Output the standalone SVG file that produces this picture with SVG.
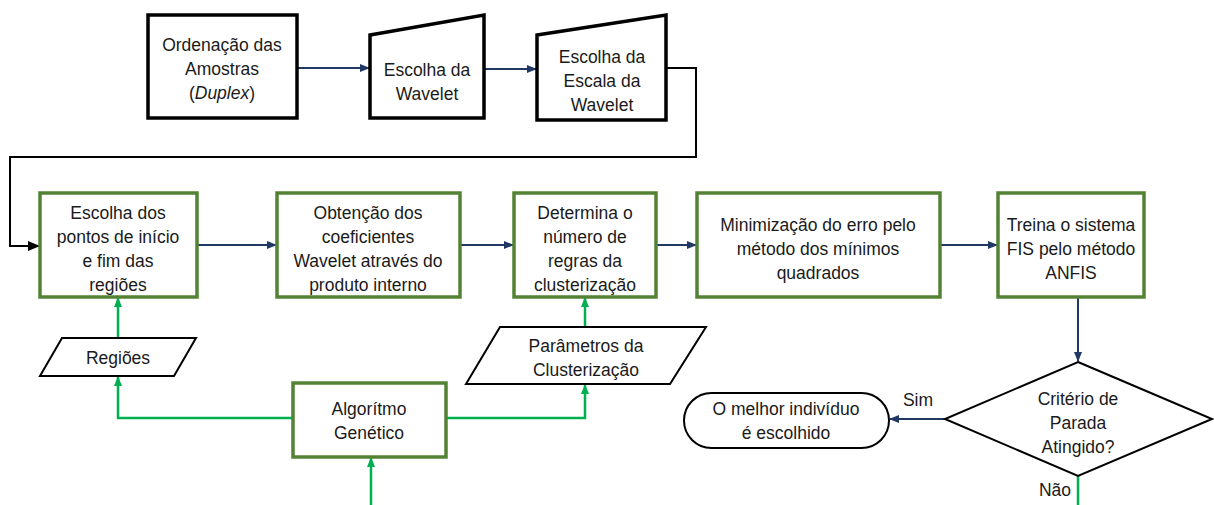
<svg xmlns="http://www.w3.org/2000/svg" width="1214" height="505" viewBox="0 0 1214 505">
<style>
text{font-family:"Liberation Sans",Arial,sans-serif;font-size:17.5px;fill:#1a1a1a;text-anchor:middle}
.blk{fill:#fff;stroke:#000;stroke-width:3.5;stroke-linejoin:miter}
.thin{fill:#fff;stroke:#000;stroke-width:2}
.grn{fill:#fff;stroke:#548235;stroke-width:3.5}
.navy{fill:none;stroke:#1F3864;stroke-width:2}
.gl{fill:none;stroke:#00B050;stroke-width:2.5}
.bl{fill:none;stroke:#000;stroke-width:2}
</style>
<defs>
<marker id="an" markerWidth="10" markerHeight="10" refX="9" refY="5" orient="auto" markerUnits="userSpaceOnUse"><path d="M0,1 L10,5 L0,9 Z" fill="#1F3864"/></marker>
<marker id="ag" markerWidth="10" markerHeight="10" refX="9" refY="5" orient="auto" markerUnits="userSpaceOnUse"><path d="M0,1 L10,5 L0,9 Z" fill="#00B050"/></marker>
<marker id="ab" markerWidth="12" markerHeight="12" refX="11" refY="6" orient="auto" markerUnits="userSpaceOnUse"><path d="M0,1 L12,6 L0,11 Z" fill="#000"/></marker>
</defs>
<g id="connectors">
<line class="navy" x1="297" y1="68" x2="369" y2="68" marker-end="url(#an)"/>
<line class="navy" x1="484" y1="69" x2="536" y2="69" marker-end="url(#an)"/>
<polyline class="bl" points="666,68 696,68 696,157 10,157 10,246 39,246" marker-end="url(#ab)"/>
<line class="navy" x1="197" y1="245" x2="276" y2="245" marker-end="url(#an)"/>
<line class="navy" x1="460" y1="245" x2="513" y2="245" marker-end="url(#an)"/>
<line class="navy" x1="656" y1="245" x2="696" y2="245" marker-end="url(#an)"/>
<line class="navy" x1="940" y1="245" x2="997" y2="245" marker-end="url(#an)"/>
<line class="navy" x1="1078" y1="297" x2="1078" y2="361" marker-end="url(#an)"/>
<line class="navy" x1="945" y1="419" x2="890" y2="419" marker-end="url(#an)"/>
<polyline class="gl" points="1078,476 1078,510"/>
<line class="gl" x1="371" y1="510" x2="371" y2="458" marker-end="url(#ag)"/>
<polyline class="gl" points="293,418 118,418 118,377" marker-end="url(#ag)"/>
<line class="gl" x1="118" y1="338" x2="118" y2="298" marker-end="url(#ag)"/>
<polyline class="gl" points="446,418 585,418 585,385" marker-end="url(#ag)"/>
<line class="gl" x1="585" y1="327" x2="585" y2="298" marker-end="url(#ag)"/>
<text x="918" y="406">Sim</text>
<text x="1055" y="496">Não</text>
</g>
<g id="n_ordenacao">
<rect class="blk" x="148" y="15" width="149" height="103"/>
<text x="222" y="51">Ordenação das</text>
<text x="222" y="75">Amostras</text>
<text x="222" y="99">(<tspan font-style="italic">Duplex</tspan>)</text>
</g>
<g id="n_wavelet">
<path class="blk" d="M370,35 L484,15 L484,118 L370,118 Z"/>
<text x="427" y="76">Escolha da</text>
<text x="427" y="100">Wavelet</text>
</g>
<g id="n_escala">
<path class="blk" d="M537,35 L666,15 L666,120 L537,120 Z"/>
<text x="602" y="63">Escolha da</text>
<text x="602" y="87">Escala da</text>
<text x="602" y="111">Wavelet</text>
</g>
<g id="n_pontos">
<rect class="grn" x="40" y="193" width="157" height="104"/>
<text x="118" y="219">Escolha dos</text>
<text x="118" y="243">pontos de início</text>
<text x="118" y="267">e fim das</text>
<text x="118" y="291">regiões</text>
</g>
<g id="n_coef">
<rect class="grn" x="277" y="193" width="183" height="104"/>
<text x="368" y="219">Obtenção dos</text>
<text x="368" y="243">coeficientes</text>
<text x="368" y="267">Wavelet através do</text>
<text x="368" y="291">produto interno</text>
</g>
<g id="n_regras">
<rect class="grn" x="514" y="193" width="142" height="104"/>
<text x="585" y="219">Determina o</text>
<text x="585" y="243">número de</text>
<text x="585" y="267">regras da</text>
<text x="585" y="291">clusterização</text>
</g>
<g id="n_min">
<rect class="grn" x="697" y="193" width="243" height="104"/>
<text x="818" y="231">Minimização do erro pelo</text>
<text x="818" y="255">método dos mínimos</text>
<text x="818" y="279">quadrados</text>
</g>
<g id="n_anfis">
<rect class="grn" x="998" y="193" width="146" height="104"/>
<text x="1071" y="231">Treina o sistema</text>
<text x="1071" y="255">FIS pelo método</text>
<text x="1071" y="279">ANFIS</text>
</g>
<g id="n_regioes">
<path class="thin" d="M62,338 L196,338 L174,376 L40,376 Z"/>
<text x="118" y="364">Regiões</text>
</g>
<g id="n_param">
<path class="thin" d="M500,327 L706,327 L670,384 L466,384 Z"/>
<text x="586" y="352">Parâmetros da</text>
<text x="586" y="376">Clusterização</text>
</g>
<g id="n_ag">
<rect class="grn" x="293" y="383" width="153" height="74"/>
<text x="369" y="415">Algorítmo</text>
<text x="369" y="439">Genético</text>
</g>
<g id="n_criterio">
<path class="thin" d="M1078,362 L1212,419 L1078,476 L945,419 Z"/>
<text x="1078" y="405">Critério de</text>
<text x="1078" y="429">Parada</text>
<text x="1078" y="453">Atingido?</text>
</g>
<g id="n_melhor">
<rect class="thin" x="684" y="393" width="205" height="55" rx="27.5" ry="27.5"/>
<text x="786" y="415">O melhor indivíduo</text>
<text x="786" y="439">é escolhido</text>
</g>
</svg>
